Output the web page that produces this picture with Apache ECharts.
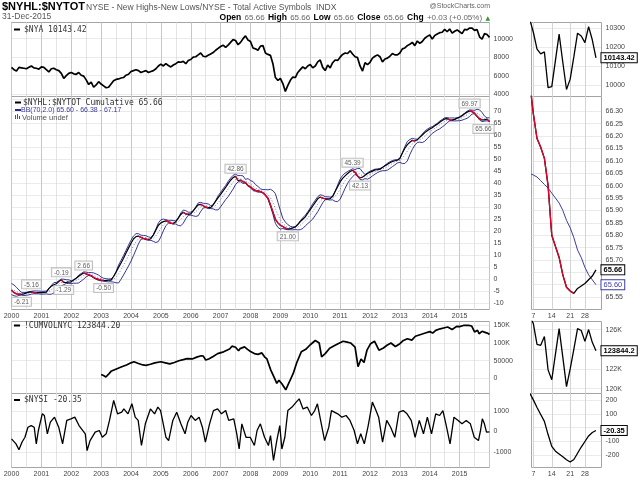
<!DOCTYPE html>
<html><head><meta charset="utf-8">
<script src="https://cdn.jsdelivr.net/npm/echarts@6/dist/echarts.min.js"></script>
<style>html,body{margin:0;padding:0;background:#fff}#c{width:640px;height:481px}</style>
</head><body><div id="c"></div>
<script>
// ---------------- DATA ----------------
const START_YEAR = 2000; // monthly points, first of each month, last = 31-Dec-2015
const cumVals = [
 -4.5,-5.5,-6.0,-6.1,-6.21,-6.0,-5.6,-5.3,-5.16,-5.5,-5.6,-5.5,
 -5.5,-5.4,-5.3,-3.8,-2.8,-2.2,-1.8,-0.9,-0.19,-1.29,-1.2,-1.1,
 -1.0,-0.2,0.5,1.3,2.0,2.66,2.3,1.9,1.6,0.8,0.3,0.0,
 -0.3,-0.5,-0.45,-0.3,-0.3,1.2,3.0,5.0,6.8,8.8,11.0,13.0,
 15.0,16.8,17.8,18.0,17.5,17.0,16.8,16.5,17.0,18.5,20.5,22.5,
 23.5,24.0,24.3,24.0,23.4,23.2,24.0,25.5,27.0,27.9,27.2,27.0,
 27.2,28.5,29.8,31.0,31.2,30.6,30.0,29.8,29.8,31.0,32.5,34.0,
 35.3,36.8,38.2,39.8,41.2,42.3,42.86,41.0,41.3,40.6,40.2,39.0,
 38.5,37.5,37.0,36.8,36.5,36.0,35.0,33.8,31.0,28.0,25.0,23.5,
 22.5,22.0,21.3,21.0,21.1,21.4,21.8,22.8,24.0,25.0,26.0,27.5,
 29.0,30.5,32.0,33.5,34.2,33.8,33.5,33.5,33.6,34.5,36.5,38.5,
 40.5,42.0,43.0,44.0,44.8,45.39,44.5,43.0,42.13,42.5,43.3,44.0,
 44.5,45.0,45.5,45.6,45.8,46.5,47.2,47.8,48.5,49.0,49.3,49.5,
 50.2,52.5,54.5,56.0,57.0,57.8,57.5,58.0,59.0,60.0,61.0,61.8,
 62.5,63.0,63.8,64.5,65.3,66.0,66.7,66.8,66.3,66.2,66.5,67.0,
 67.4,68.0,68.8,69.5,69.97,69.8,69.0,67.8,66.8,66.3,66.3,66.6,
 65.66];
const bbUpper = [
 -1.7,-2.3,-3.3,-4.41,-5.35,-5.48,-5.38,-5.14,-4.92,-4.79,-4.79,-4.84,
 -4.93,-4.9,-4.83,-3.81,-2.51,-1.36,-1.25,-0.6,0.14,0.08,-0.13,-0.18,
 -0.55,-0.18,0.67,1.76,2.44,3.13,3.02,2.82,2.86,2.7,2.27,1.8,
 0.97,0.48,0.29,0.21,0.21,1.2,3.21,5.94,7.92,9.96,12.1,14.24,
 16.29,18.01,19.01,19.0,18.37,18.28,18.17,17.65,17.43,18.6,20.93,23.48,
 24.75,25.08,24.84,24.55,24.56,24.5,24.25,25.64,27.59,28.83,28.58,27.91,
 27.96,28.53,30.09,31.79,32.02,31.63,31.54,31.38,30.65,30.99,32.67,34.77,
 36.21,37.66,39.02,40.68,42.08,43.25,43.68,43.14,43.17,43.02,41.55,41.89,
 41.05,40.69,39.4,38.64,37.65,37.28,37.34,37.22,37.45,36.85,35.61,32.13,
 28.6,25.35,23.87,22.75,22.05,21.8,21.93,22.97,24.32,25.64,26.69,28.08,
 29.68,31.4,32.9,34.4,35.14,34.92,34.35,34.35,34.2,34.48,36.63,39.21,
 41.7,43.23,44.15,44.83,45.41,45.97,45.64,46.09,46.04,44.69,43.55,44.29,
 44.98,45.39,45.8,45.92,46.08,46.55,47.4,48.23,48.9,49.39,49.7,49.78,
 50.34,52.62,55.18,57.36,58.15,58.64,58.34,58.28,59.13,60.38,61.6,62.41,
 63.08,63.48,64.18,64.85,65.76,66.44,67.17,67.25,67.05,67.1,67.05,67.1,
 67.62,68.28,69.06,69.9,70.45,70.34,70.25,70.66,70.45,69.37,67.85,67.1,
 67.17];
const bbMiddle = [
 -4.0,-4.55,-5.15,-5.53,-5.95,-6.08,-5.98,-5.78,-5.52,-5.39,-5.39,-5.44,
 -5.53,-5.5,-5.43,-5.0,-4.33,-3.53,-2.65,-1.93,-1.27,-1.05,-0.9,-0.95,
 -1.15,-0.88,-0.45,0.15,0.9,1.62,2.07,2.22,2.12,1.65,1.15,0.68,
 0.2,-0.13,-0.31,-0.39,-0.39,0.04,0.9,2.23,4.0,5.9,7.9,9.9,
 11.95,13.95,15.65,16.9,17.53,17.58,17.33,16.95,16.83,17.2,18.13,19.63,
 21.25,22.63,23.58,23.95,23.93,23.73,23.65,24.03,24.93,26.1,26.9,27.28,
 27.33,27.48,28.13,29.13,30.13,30.65,30.7,30.4,30.05,30.15,30.78,31.83,
 33.2,34.65,36.08,37.53,39.0,40.38,41.54,41.84,41.87,41.44,40.78,40.28,
 39.58,38.8,38.0,37.45,36.95,36.58,36.08,35.33,33.95,31.95,29.45,26.88,
 24.75,23.25,22.33,21.7,21.35,21.2,21.33,21.78,22.5,23.4,24.45,25.63,
 26.88,28.25,29.75,31.25,32.55,33.38,33.75,33.75,33.6,33.78,34.53,35.78,
 37.5,39.38,41.0,42.38,43.45,44.3,44.67,44.42,43.76,43.03,42.73,42.98,
 43.58,44.2,44.75,45.15,45.48,45.85,46.28,46.83,47.5,48.13,48.65,49.08,
 49.5,50.38,51.68,53.3,55.0,56.33,57.08,57.58,58.08,58.63,59.5,60.45,
 61.33,62.08,62.78,63.45,64.15,64.9,65.63,66.2,66.45,66.5,66.45,66.5,
 66.78,67.23,67.8,68.43,69.07,69.52,69.57,69.14,68.35,67.48,66.8,66.5,
 66.38];
const bbLower = [
 -6.3,-6.8,-7.0,-6.65,-6.55,-6.68,-6.58,-6.42,-6.12,-5.99,-5.99,-6.04,
 -6.13,-6.1,-6.03,-6.19,-6.15,-5.7,-4.05,-3.26,-2.68,-2.18,-1.67,-1.72,
 -1.75,-1.58,-1.57,-1.46,-0.64,0.11,1.12,1.62,1.38,0.6,0.03,-0.44,
 -0.57,-0.73,-0.91,-0.99,-0.99,-1.12,-1.41,-1.48,0.08,1.84,3.7,5.56,
 7.61,9.89,12.29,14.8,16.69,16.88,16.49,16.25,16.23,15.8,15.33,15.78,
 17.75,20.18,22.32,23.35,23.3,22.96,23.05,22.42,22.27,23.37,25.22,26.65,
 26.7,26.43,26.17,26.47,28.24,29.67,29.86,29.42,29.45,29.31,28.89,28.89,
 30.19,31.64,33.14,34.38,35.92,37.51,39.4,40.54,40.57,39.86,40.01,38.67,
 38.11,36.91,36.6,36.26,36.25,35.88,34.82,33.44,30.45,27.05,23.29,21.63,
 20.9,21.15,20.79,20.65,20.65,20.6,20.73,20.59,20.68,21.16,22.21,23.18,
 24.08,25.1,26.6,28.1,29.96,31.84,33.15,33.15,33.0,33.08,32.43,32.35,
 33.3,35.53,37.85,39.93,41.49,42.63,43.7,42.75,41.48,41.37,41.91,41.67,
 42.18,43.01,43.7,44.38,44.88,45.15,45.16,45.43,46.1,46.87,47.6,48.38,
 48.66,48.14,48.18,49.24,51.85,54.02,55.82,56.88,57.03,56.88,57.4,58.49,
 59.58,60.68,61.38,62.05,62.54,63.36,64.09,65.15,65.85,65.9,65.85,65.9,
 65.94,66.18,66.54,66.96,67.69,68.7,68.89,67.62,66.25,65.59,65.75,65.9,
 65.6];
const nyaMonthly = [
 6900,6650,6500,6900,6850,6800,6750,6900,7050,6850,6800,6700,
 6950,6900,6650,6400,6750,6800,6650,6550,6250,5700,6000,6250,
 6350,6200,6150,6350,6050,5950,5550,5050,5300,4750,5000,5350,
 5100,4900,4700,4750,5100,5450,5600,5650,5750,5800,6050,6150,
 6450,6550,6650,6550,6350,6450,6550,6350,6450,6550,6750,7050,
 7250,7050,7300,7100,6950,7150,7300,7500,7450,7550,7300,7650,
 7750,8000,8050,8250,8450,8100,8050,8200,8350,8500,8750,8950,
 9150,9300,9050,9300,9600,9900,9800,9350,9600,10000,10300,9850,
 9700,9000,8900,8750,9200,9250,8450,8300,8200,7300,5800,5500,
 5700,5150,4300,4950,5500,5850,5800,6350,6650,6950,6750,7050,
 7200,6850,7050,7500,7700,6900,6550,7150,6850,7400,7700,7650,
 8000,8300,8450,8400,8700,8350,8050,7950,7050,6500,7400,7200,
 7450,7900,8100,8250,8050,7500,7800,7900,8100,8400,8250,8250,
 8450,8900,9000,9250,9400,9600,9250,9750,9500,9700,10050,10250,
 10400,9950,10350,10500,10650,10700,11000,10750,11050,10600,10800,10950,
 10750,10550,11000,10950,11150,11150,10900,11000,10200,9950,10550,10450,
 10143.42];
// [decimal year, thousands]
const cumvolPts = [
 [2003.00,11],[2003.08,8],[2003.16,4],[2003.25,12],[2003.33,20],[2003.41,23],[2003.55,28],[2003.69,33],[2003.85,38],
 [2004.00,44],[2004.10,47],[2004.25,42],[2004.40,38],[2004.50,37],[2004.65,40],[2004.80,44],
 [2005.00,47],[2005.15,44],[2005.30,41],[2005.45,45],[2005.60,50],[2005.75,53],[2005.88,56],
 [2006.05,55],[2006.20,60],[2006.35,64],[2006.42,63],[2006.50,52],[2006.60,55],[2006.75,62],[2006.90,70],
 [2007.10,75],[2007.15,70],[2007.30,83],[2007.38,91],[2007.50,88],[2007.60,78],[2007.65,84],[2007.80,89],[2007.90,82],
 [2008.00,76],[2008.13,70],[2008.25,68],[2008.38,72],[2008.47,61],[2008.55,55],[2008.68,23.5],[2008.78,5],[2008.88,-14],[2008.95,-5],
 [2009.05,-15],[2009.18,-32],[2009.30,-10],[2009.43,14],[2009.55,45],[2009.70,75],[2009.85,82],
 [2010.00,95],[2010.17,107],[2010.30,100],[2010.38,61],[2010.50,70],[2010.65,85],[2010.80,92],[2010.93,98],
 [2011.10,105],[2011.20,103],[2011.35,100],[2011.50,88],[2011.60,33],[2011.70,55],[2011.80,45],[2011.90,80],
 [2012.02,98],[2012.15,105],[2012.30,79.6],[2012.45,86],[2012.57,93.6],[2012.70,100],[2012.85,90],
 [2013.00,98],[2013.10,106],[2013.25,112],[2013.40,108],[2013.52,119],[2013.70,124],[2013.85,128],
 [2014.00,132],[2014.10,128],[2014.20,135.7],[2014.35,140],[2014.50,143],[2014.60,145],[2014.75,138],[2014.90,147],
 [2015.00,146],[2015.15,150],[2015.30,149.7],[2015.40,148],[2015.50,131],[2015.60,136],[2015.65,126],[2015.75,133],
 [2015.85,130],[2015.95,127],[2016.00,123.8442]];
const nysiPts = [
 [2000.00,-360],[2000.05,-440],[2000.15,-600],[2000.25,-890],[2000.35,-520],[2000.45,-280],[2000.55,210],[2000.66,290],[2000.76,210],[2000.83,-600],[2000.90,50],
 [2001.03,860],[2001.10,780],[2001.20,-110],[2001.30,455],[2001.44,700],[2001.58,210],[2001.71,-600],[2001.85,540],[2001.99,620],
 [2002.12,700],[2002.26,290],[2002.47,-110],[2002.53,-930],[2002.63,-440],[2002.80,-30],[2002.94,50],
 [2003.04,-280],[2003.17,-110],[2003.28,540],[2003.42,1510],[2003.55,860],[2003.69,940],[2003.76,1100],[2003.90,860],
 [2004.03,1350],[2004.14,700],[2004.24,540],[2004.35,-680],[2004.48,375],[2004.65,1100],[2004.79,860],[2004.90,1190],[2004.99,1020],
 [2005.17,-280],[2005.26,-440],[2005.40,540],[2005.53,940],[2005.67,375],[2005.81,-110],[2005.90,455],
 [2006.01,780],[2006.15,540],[2006.28,700],[2006.39,210],[2006.49,-520],[2006.63,375],[2006.76,1020],[2006.90,1100],
 [2007.03,860],[2007.17,1020],[2007.27,540],[2007.44,620],[2007.54,-110],[2007.62,-850],[2007.71,375],[2007.85,-280],[2007.99,-280],
 [2008.13,-680],[2008.22,50],[2008.33,375],[2008.47,-280],[2008.60,-680],[2008.67,-200],[2008.77,-1410],[2008.88,-440],[2008.98,290],
 [2009.05,-850],[2009.15,-280],[2009.25,1020],[2009.39,1190],[2009.53,1430],[2009.63,1590],[2009.76,1100],[2009.90,1190],
 [2010.04,780],[2010.15,1020],[2010.24,1350],[2010.37,375],[2010.48,-440],[2010.62,210],[2010.71,1020],[2010.92,860],
 [2011.06,700],[2011.20,780],[2011.33,540],[2011.47,50],[2011.58,-600],[2011.69,-110],[2011.81,-600],[2011.94,290],
 [2012.08,1430],[2012.18,1100],[2012.29,700],[2012.42,-520],[2012.56,540],[2012.69,210],[2012.83,-280],[2012.97,940],
 [2013.11,1020],[2013.24,860],[2013.38,540],[2013.51,-280],[2013.65,540],[2013.79,-110],[2013.92,700],
 [2014.06,-110],[2014.20,860],[2014.33,780],[2014.44,1020],[2014.54,375],[2014.68,-600],[2014.81,700],[2014.95,540],
 [2015.08,375],[2015.22,540],[2015.36,375],[2015.49,-280],[2015.63,-440],[2015.70,50],[2015.76,620],[2015.83,375],[2015.90,-30],[2016.00,-20.35]];
// December 2015 detail (trading days; first entry is 4-Dec, just left of the panel)
const decDays = ['4','7','8','9','10','11','14','15','16','17','18','21','22','23','24','28','29','30','31'];
const nyaDec = [10350,10280,10190,10165,10175,9985,9990,10130,10270,10120,9975,10030,10150,10275,10260,10225,10310,10240,10143.42];
const cumDec = [66.42,66.29,66.19,66.155,66.11,66.00,65.80,65.755,65.71,65.64,65.59,65.575,65.565,65.585,65.595,65.605,65.62,65.635,65.66];
const bbLowerDec = [66.05,66.043,66.035,66.02,66.005,65.99,65.97,65.95,65.93,65.90,65.86,65.83,65.79,65.74,65.71,65.67,65.64,65.62,65.60];
const cumvolDec = [127.5,126.6,124.5,124.4,125.3,121.9,120.9,123.5,126.1,123.2,120.2,122.0,124.0,126.1,125.9,124.8,126.0,124.7,123.8442];
const nysiDec = [250,200,145,95,45,-50,-135,-170,-190,-210,-232,-248,-230,-185,-140,-100,-60,-35,-20.35];
// peak/trough annotations (month index into cumVals) and label side
const annIdx = [4,8,20,21,29,37,90,111,137,140,184,192];
const annPos = ['bottom','top','top','bottom','top','bottom','top','bottom','top','bottom','top','bottom'];
// tick / grid values
const gridNya = [4000,6000,8000,10000];
const gridCum = [-10,-5,0,5,10,15,20,25,30,35,40,45,50,55,60,65,70,75];
const gridCumvol = [0,50,100,150];
const gridNysi = [-1000,0,1000];
const gridNyaDec = [10000,10100,10200,10300];
const gridCumDec = [65.55,65.60,65.65,65.70,65.75,65.80,65.85,65.90,65.95,66.00,66.05,66.10,66.15,66.20,66.25,66.30];
const gridCumvolDec = [120,122,124,126];
const gridNysiDec = [-200,-100,0,100,200];
const dayTickIdx = [0,5,10,14];

// ---------------- BUILD ----------------
const FF = '"Liberation Sans", Arial, sans-serif';
const MONO = '"DejaVu Sans Mono", monospace';
const monthX = cumVals.map((_, i) => START_YEAR + i / 12);
const decX = decDays.map((_, i) => i - 1);
const pairs = (xs, ys) => ys.map((v, i) => [xs[i], v]);

function fallingSegments(xs, ys) {
  const out = []; let last = -5;
  for (let i = 1; i < ys.length; i++) {
    if (ys[i] < ys[i - 1]) {
      if (last !== i - 1) { if (out.length) out.push([xs[i - 1], '-']); out.push([xs[i - 1], ys[i - 1]]); }
      out.push([xs[i], ys[i]]); last = i;
    }
  }
  return out;
}

const L = 11.5, W = 478, ML = 531.5, MW = 70;
const panels = [{top:22.5,height:74},{top:96.5,height:213},{top:321.5,height:72},{top:393.5,height:74}];
const grids = [];
panels.forEach(p => grids.push({left:L, top:p.top, width:W, height:p.height, show:true, borderColor:'#a4a4a4', borderWidth:1, backgroundColor:'#fff', containLabel:false}));
panels.forEach(p => grids.push({left:ML, top:p.top, width:MW, height:p.height, show:true, borderColor:'#a4a4a4', borderWidth:1, backgroundColor:'#fff', containLabel:false}));

const labelBase = {fontSize:7, color:'#444', fontFamily:FF};
const xAxes = [];
for (let k = 0; k < 4; k++) {
  xAxes.push({type:'value', gridIndex:k, min:2000, max:2016, interval:0.5,
    axisLine:{show:false}, axisTick:{show:false},
    axisLabel:Object.assign({show:(k===1||k===3), margin:3, formatter:v => (Number.isInteger(v) && v < 2016) ? String(v) : ''}, labelBase),
    splitLine:{show:true, lineStyle:{color:['#c6c6c6','#e4e4e4'], width:1}}});
}
for (let k = 0; k < 4; k++) {
  xAxes.push({type:'value', gridIndex:4+k, min:-0.5, max:18.5, interval:0.5,
    axisLine:{show:false}, axisTick:{show:false}, splitLine:{show:false},
    axisLabel:Object.assign({show:(k===1||k===3), margin:3, formatter:v => dayTickIdx.indexOf(v) >= 0 ? decDays[v + 1] : ''}, labelBase)});
}
function yAx(gi, min, max, interval, fmt) {
  return {type:'value', gridIndex:gi, position:'right', min, max, interval,
    axisLine:{show:false}, axisTick:{show:false}, splitLine:{show:false},
    axisLabel:Object.assign({margin:4, formatter:fmt}, labelBase)};
}
const yAxes = [
  yAx(0, 3750, 11750, 250, v => (v % 2000 === 0 && v >= 4000 && v <= 10000) ? String(v) : ''),
  yAx(1, -12.5, 76, 2.5, v => (v % 5 === 0 && v >= -10 && v <= 70) ? String(v) : ''),
  yAx(2, -42.5, 160.6, 2.5, v => (v % 50 === 0 && v >= 0 && v <= 150) ? (v >= 100 ? v + 'K' : String(v * 1000)) : ''),
  yAx(3, -1750, 1850, 250, v => v % 1000 === 0 ? String(v) : ''),
  yAx(4, 9937.5, 10332, 12.5, v => v % 100 === 0 ? String(v) : ''),
  yAx(5, 65.5, 66.36, 0.05, v => { const c = Math.round(v * 100); if (c % 5 !== 0 || c < 6555 || c > 6630 || c === 6560 || c === 6565) return ''; return (c / 100).toFixed(2); }),
  yAx(6, 119.5, 126.82, 0.5, v => (v === 120 || v === 122 || v === 126) ? v + 'K' : ''),
  yAx(7, -287.5, 246, 12.5, v => (v % 100 === 0 && v !== 0) ? String(v) : '')
];

function gridLines(ai, yVals, xVals) {
  const data = yVals.map(v => ({yAxis:v, lineStyle:{color:'#d4d4d4', type:[1,1], width:1}}))
    .concat((xVals || []).map(v => ({xAxis:v, lineStyle:{color:'#d4d4d4', type:'solid', width:1}})));
  return {type:'line', xAxisIndex:ai, yAxisIndex:ai, data:[], silent:true, z:1,
    markLine:{silent:true, symbol:['none','none'], label:{show:false}, animation:false, z:1, data}};
}
function lineS(ai, data, color, width, z, extra) {
  return Object.assign({type:'line', xAxisIndex:ai, yAxisIndex:ai, data, showSymbol:false, symbol:'none',
    lineStyle:{color, width}, z, silent:true, animation:false, connectNulls:false}, extra || {});
}
function valueBox(ai, x, y, text, color, border, bold) {
  return {symbol:'rect', symbolSize:1, itemStyle:{color:'rgba(0,0,0,0)'}, animation:false, silent:true,
    data:[{coord:[x, y]}],
    label:{show:true, position:'right', distance:5, formatter:text, fontSize:7.5, fontWeight:bold ? 'bold' : 'normal',
      fontFamily:FF, color, backgroundColor:'#fff', borderColor:border, borderWidth:1, padding:[1,2,0,2]}};
}
const lastI = decDays.length - 1;
const series = [
  gridLines(0, gridNya), gridLines(1, gridCum), gridLines(2, gridCumvol), gridLines(3, gridNysi),
  gridLines(4, gridNyaDec, dayTickIdx), gridLines(5, gridCumDec, dayTickIdx), gridLines(6, gridCumvolDec, dayTickIdx), gridLines(7, gridNysiDec, dayTickIdx),
  lineS(0, pairs(monthX, nyaMonthly), '#000', 1.7, 3),
  lineS(1, pairs(monthX, bbUpper), '#1e1e8e', 0.9, 2),
  lineS(1, pairs(monthX, bbLower), '#1e1e8e', 0.9, 2),
  lineS(1, pairs(monthX, bbMiddle), '#5555aa', 0.8, 2, {lineStyle:{color:'#5555aa', width:0.8, type:[1,2]}}),
  lineS(1, pairs(monthX, cumVals), '#000', 1.2, 3),
  lineS(1, fallingSegments(monthX, cumVals), '#e6002a', 1.3, 4),
  {type:'scatter', xAxisIndex:1, yAxisIndex:1, symbolSize:1, itemStyle:{color:'rgba(0,0,0,0)'}, z:6, silent:true, animation:false,
    data: annIdx.map((idx, k) => ({value:[monthX[idx], cumVals[idx]], label:{position:annPos[k], offset:(idx === 192 ? [-6, 0] : [0, 0])}})),
    label:{show:true, formatter:p => p.value[1].toFixed(2), fontSize:6.5, color:'#333', fontFamily:FF,
      backgroundColor:'#fff', borderColor:'#b0b0b0', borderWidth:1, padding:[1,2,0,2], distance:3}},
  lineS(2, cumvolPts, '#000', 1.7, 3),
  lineS(3, nysiPts, '#000', 1.3, 3),
  lineS(4, pairs(decX, nyaDec), '#000', 1.3, 3, {markPoint:valueBox(4, decX[lastI], nyaDec[lastI], nyaDec[lastI].toFixed(2), '#000', '#000', true)}),
  lineS(5, pairs(decX, bbLowerDec), '#3c3ca8', 1.0, 2, {markPoint:valueBox(5, decX[lastI], bbLowerDec[lastI], bbLowerDec[lastI].toFixed(2), '#3c3ca8', '#3c3ca8', false)}),
  lineS(5, pairs(decX, cumDec), '#000', 1.3, 3, {markPoint:valueBox(5, decX[lastI], cumDec[lastI], cumDec[lastI].toFixed(2), '#000', '#000', true)}),
  lineS(5, fallingSegments(decX, cumDec), '#e6002a', 1.3, 4),
  lineS(6, pairs(decX, cumvolDec), '#000', 1.3, 3, {markPoint:valueBox(6, decX[lastI], cumvolDec[lastI], String(Math.round(cumvolDec[lastI] * 10000) / 10), '#000', '#000', true)}),
  lineS(7, pairs(decX, nysiDec), '#000', 1.3, 3, {markPoint:valueBox(7, decX[lastI], nysiDec[lastI], nysiDec[lastI].toFixed(2), '#000', '#000', true)})
];

const lastCum = cumVals[cumVals.length - 1];
function legendLine(x, y, color) { return {type:'line', z:100, shape:{x1:x, y1:y, x2:x + 6, y2:y}, style:{stroke:color, lineWidth:2}}; }
function legendText(x, y, text, font, fill) { return {type:'text', z:100, x, y, style:{text, font, fill, verticalAlign:'middle', align:'left'}}; }
const graphic = [
  {type:'text', z:100, left:2, top:1, style:{text:'$NYHL:$NYTOT', font:'bold 11px ' + FF, fill:'#000'}},
  {type:'text', z:100, left:86, top:3, style:{text:'NYSE - New Highs-New Lows/NYSE - Total Active Symbols  INDX', font:'8.5px ' + FF, fill:'#555'}},
  {type:'text', z:100, right:150, top:3, style:{text:'@StockCharts.com', font:'7px ' + FF, fill:'#666'}},
  {type:'text', z:100, left:2, top:12, style:{text:'31-Dec-2015', font:'8.5px ' + FF, fill:'#555'}},
  {type:'text', z:100, right:150, top:12, style:{
    text:'{b|Open} {v|' + lastCum.toFixed(2) + '} {b|High} {v|' + lastCum.toFixed(2) + '} {b|Low} {v|' + lastCum.toFixed(2) + '} {b|Close} {v|' + lastCum.toFixed(2) + '} {b|Chg} {v|+0.03 (+0.05%)} {g|▲}',
    rich:{b:{fontSize:8.5, fontWeight:'bold', fontFamily:FF, fill:'#000'}, v:{fontSize:8, fontFamily:FF, fill:'#666'}, g:{fontSize:6, fontFamily:'"DejaVu Sans"', fill:'#2a9a2a'}}}},
  legendLine(14, 29.5, '#000'), legendText(24, 29.5, '$NYA ' + nyaDec[lastI].toFixed(2), '8px ' + MONO, '#333'),
  legendLine(15, 102.5, '#000'), legendText(23, 102.5, '$NYHL:$NYTOT Cumulative ' + lastCum.toFixed(2), '8px ' + MONO, '#333'),
  legendLine(15, 110, '#2a2a90'), legendText(21, 110, 'BB(70,2.0) ' + bbLower[192].toFixed(2) + ' - ' + bbMiddle[192].toFixed(2) + ' - ' + bbUpper[192].toFixed(2), '7px ' + FF, '#3a3a9a'),
  {type:'rect', z:100, shape:{x:15, y:115, width:1, height:4}, style:{fill:'#555'}},
  {type:'rect', z:100, shape:{x:17, y:114, width:1, height:5}, style:{fill:'#555'}},
  {type:'rect', z:100, shape:{x:19, y:116, width:1, height:3}, style:{fill:'#555'}},
  legendText(22, 117.5, 'Volume undef', '7.5px ' + FF, '#555'),
  legendLine(14, 325.5, '#000'), legendText(24, 325.5, '!CUMVOLNYC ' + (cumvolDec[lastI] * 1000).toFixed(2), '8px ' + MONO, '#333'),
  legendLine(14, 400, '#000'), legendText(24, 400, '$NYSI ' + nysiDec[lastI].toFixed(2), '8px ' + MONO, '#333')
];

const chart = echarts.init(document.getElementById('c'), null, {renderer:'canvas', width:640, height:481});
chart.setOption({animation:false, backgroundColor:'#fff', grid:grids, xAxis:xAxes, yAxis:yAxes, series, graphic});
</script></body></html>
